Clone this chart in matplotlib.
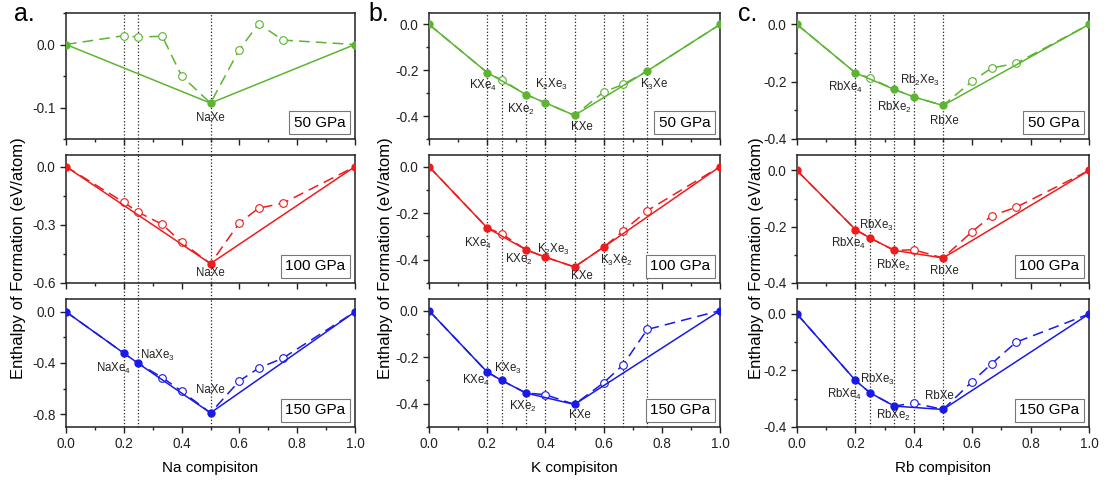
import matplotlib.pyplot as plt
from matplotlib.ticker import MultipleLocator, FormatStrFormatter

plt.rcParams['font.family'] = 'Liberation Sans'
plt.rcParams['mathtext.fontset'] = 'custom'
plt.rcParams['mathtext.rm'] = 'Liberation Sans'
plt.rcParams['mathtext.default'] = 'regular'

# composition x in A(x)Xe(1-x)
comp = [0.0, 0.2, 0.25, 1/3, 0.4, 0.5, 0.6, 2/3, 0.75, 1.0]
pressures = ['50 GPa', '100 GPa', '150 GPa']
colors = ['#5cb531', '#ee1c1c', '#1a1ae6']

# formation enthalpies (eV/atom)
na_50 = [0.0, 0.014, 0.012, 0.013, -0.050, -0.093, -0.008, 0.033, 0.007, 0.0]
na_100 = [0.0, -0.184, -0.235, -0.298, -0.390, -0.500, -0.290, -0.214, -0.189, 0.0]
na_150 = [0.0, -0.323, -0.403, -0.514, -0.620, -0.790, -0.540, -0.440, -0.363, 0.0]

k_50 = [0.0, -0.210, -0.242, -0.306, -0.342, -0.397, -0.295, -0.262, -0.203, 0.0]
k_100 = [0.0, -0.263, -0.289, -0.357, -0.389, -0.431, -0.346, -0.277, -0.189, 0.0]
k_150 = [0.0, -0.264, -0.300, -0.354, -0.361, -0.403, -0.310, -0.233, -0.081, 0.0]

rb_50 = [0.0, -0.169, -0.187, -0.227, -0.253, -0.283, -0.198, -0.152, -0.136, 0.0]
rb_100 = [0.0, -0.210, -0.240, -0.284, -0.282, -0.311, -0.217, -0.161, -0.131, 0.0]
rb_150 = [0.0, -0.235, -0.279, -0.326, -0.315, -0.338, -0.239, -0.176, -0.100, 0.0]

# indices of the points on the convex hull
na_stable = [[0, 5, 9], [0, 5, 9], [0, 1, 2, 5, 9]]
k_stable = [[0, 1, 3, 4, 5, 8, 9], [0, 1, 3, 4, 5, 6, 9], [0, 1, 2, 3, 5, 9]]
rb_stable = [[0, 1, 3, 4, 5, 9], [0, 1, 2, 3, 5, 9], [0, 1, 2, 3, 5, 9]]

# phase names with text placement (x, y in data units)
na_labels = [
    [('NaXe', 0.5, -0.117)],
    [('NaXe', 0.5, -0.55)],
    [('NaXe$_4$', 0.165, -0.44), ('NaXe$_3$', 0.315, -0.34), ('NaXe', 0.5, -0.61)],
]
k_labels = [
    [('KXe$_4$', 0.185, -0.265), ('KXe$_2$', 0.315, -0.37), ('K$_2$Xe$_3$', 0.42, -0.26),
     ('KXe', 0.525, -0.447), ('K$_3$Xe', 0.775, -0.26)],
    [('KXe$_4$', 0.17, -0.33), ('KXe$_2$', 0.31, -0.40), ('K$_2$Xe$_3$', 0.427, -0.355),
     ('KXe', 0.525, -0.47), ('K$_3$Xe$_2$', 0.645, -0.405)],
    [('KXe$_4$', 0.163, -0.30), ('KXe$_3$', 0.27, -0.25), ('KXe$_2$', 0.323, -0.41),
     ('KXe', 0.52, -0.45)],
]
rb_labels = [
    [('RbXe$_4$', 0.168, -0.22), ('RbXe$_2$', 0.335, -0.29), ('Rb$_2$Xe$_3$', 0.42, -0.195),
     ('RbXe', 0.506, -0.337)],
    [('RbXe$_4$', 0.175, -0.26), ('RbXe$_3$', 0.272, -0.195), ('RbXe$_2$', 0.33, -0.337),
     ('RbXe', 0.503, -0.358)],
    [('RbXe$_4$', 0.163, -0.285), ('RbXe$_3$', 0.275, -0.232), ('RbXe$_2$', 0.332, -0.36),
     ('RbXe', 0.487, -0.29)],
]

na_vlines = [0.2, 0.25, 0.5]
k_vlines = [0.2, 0.25, 1/3, 0.4, 0.5, 0.6, 2/3, 0.75]
rb_vlines = [0.2, 0.25, 1/3, 0.4, 0.5]

# y range, major step, minor step for each row
na_y = [((-0.15, 0.05), 0.1, 0.05), ((-0.6, 0.06), 0.3, 0.15), ((-0.9, 0.1), 0.4, 0.2)]
k_y = [((-0.5, 0.05), 0.2, 0.1), ((-0.5, 0.05), 0.2, 0.1), ((-0.5, 0.05), 0.2, 0.1)]
rb_y = [((-0.4, 0.04), 0.2, 0.1), ((-0.4, 0.055), 0.2, 0.1), ((-0.4, 0.053), 0.2, 0.1)]

systems = [
    ('a.', 'Na', [na_50, na_100, na_150], na_stable, na_labels, na_vlines, na_y),
    ('b.', 'K', [k_50, k_100, k_150], k_stable, k_labels, k_vlines, k_y),
    ('c.', 'Rb', [rb_50, rb_100, rb_150], rb_stable, rb_labels, rb_vlines, rb_y),
]

W, H = 1107, 483
fig = plt.figure(figsize=(W / 100, H / 100), dpi=100)

col_left = [66, 429, 797]
col_width = [289, 291, 292]
row_top = [13, 155, 299]
row_bottom = [139, 283, 427]
ylabel_x = [19, 386, 756]
letter_x = [14, 368, 738]

for c, (letter, elem, series, stable, labels, vlines, yset) in enumerate(systems):
    axes = []
    for r in range(3):
        ax = fig.add_axes([col_left[c] / W, 1 - row_bottom[r] / H,
                           col_width[c] / W, (row_bottom[r] - row_top[r]) / H])
        axes.append(ax)
        e = series[r]
        col = colors[r]
        idx = stable[r]
        open_idx = [i for i in range(len(comp)) if i not in idx]

        # metastable path (dashed) through all structures
        ax.plot(comp, e, ls=(0, (7, 4)), color=col, lw=1.1, zorder=2)
        ax.plot([comp[i] for i in open_idx], [e[i] for i in open_idx], 'o', ms=5.5,
                mfc='white', mec=col, mew=0.8, zorder=3)
        # convex hull
        ax.plot([comp[i] for i in idx], [e[i] for i in idx], '-o', color=col,
                lw=1.1, ms=5, zorder=4)

        for name, tx, ty in labels[r]:
            ax.text(tx, ty, name, fontsize=8.3, color='#222222', ha='center', va='center', zorder=5)

        ax.text(0.967, 0.075, pressures[r], transform=ax.transAxes, fontsize=11,
                ha='right', va='bottom', zorder=6,
                bbox=dict(boxstyle='square,pad=0.3', fc='white', ec='#777777', lw=0.8))

        ylim, major, minor = yset[r]
        ax.set_xlim(0, 1)
        ax.set_ylim(*ylim)
        ax.xaxis.set_major_locator(MultipleLocator(0.2))
        ax.xaxis.set_minor_locator(MultipleLocator(0.1))
        ax.yaxis.set_major_locator(MultipleLocator(major))
        ax.yaxis.set_minor_locator(MultipleLocator(minor))
        ax.yaxis.set_major_formatter(FormatStrFormatter('%.1f'))
        ax.tick_params(which='both', direction='out', top=False, right=False,
                       labelsize=9.8, width=1.0, colors='#222222')
        ax.tick_params(which='major', length=4)
        ax.tick_params(which='minor', length=2.5)
        for sp in ax.spines.values():
            sp.set_linewidth(1.1)
            sp.set_color('#222222')
        if r < 2:
            ax.tick_params(labelbottom=False)

    # dotted guides running through all three rows
    for r, ax in enumerate(axes):
        h = row_bottom[r] - row_top[r]
        ymin = 0.0
        if r < 2:
            ymin = -(row_top[r + 1] - row_bottom[r]) / h
        for xv in vlines:
            ax.axvline(xv, ymin=ymin, ymax=1, color='#222222', ls=':', lw=0.9,
                       clip_on=False, zorder=1)

    axes[2].set_xlabel(f'{elem} compisiton', fontsize=11, labelpad=7)
    fig.text(ylabel_x[c] / W, 1 - 258 / H, 'Enthalpy of Formation (eV/atom)',
             rotation=90, ha='center', va='center', fontsize=12)
    fig.text(letter_x[c] / W, 1 - 2 / H, letter, fontsize=18, ha='left', va='top')

fig.savefig('out.png', dpi=100)
